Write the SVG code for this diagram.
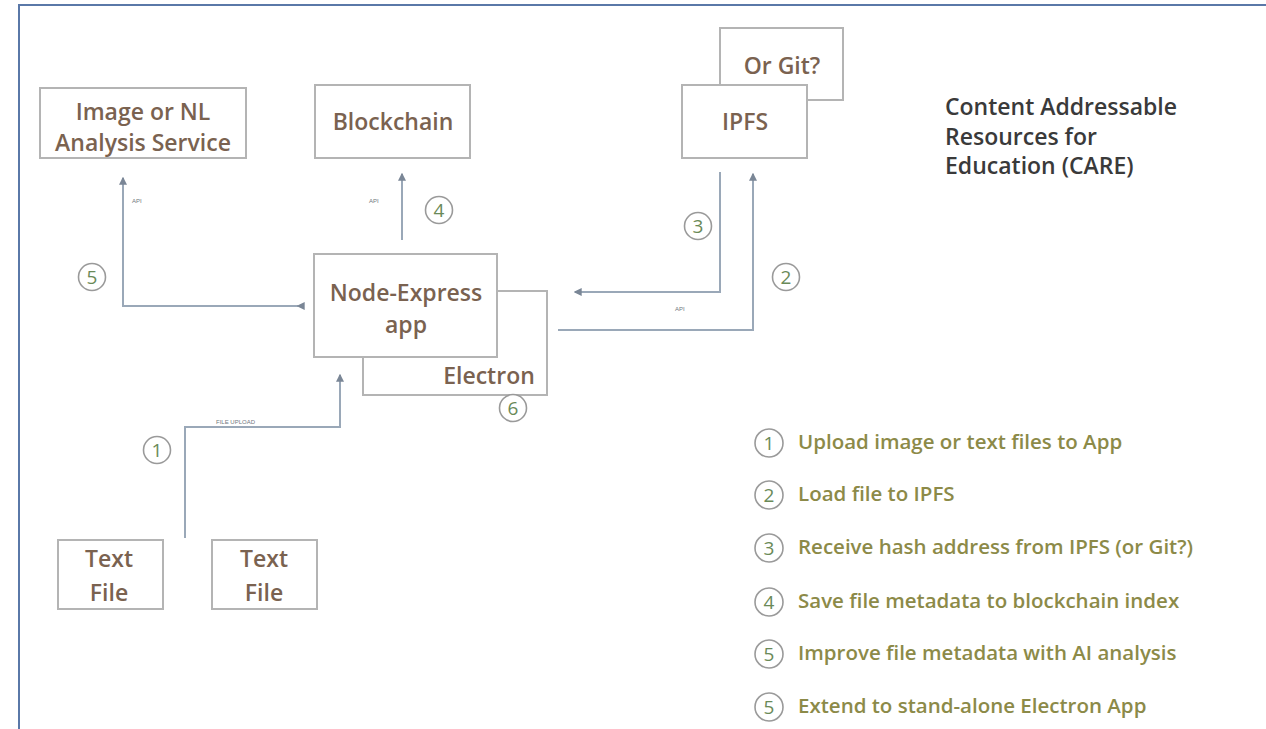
<svg xmlns="http://www.w3.org/2000/svg" width="1266" height="729" viewBox="0 0 1266 729">
<defs>
<style>
.box{fill:#ffffff;stroke:#b4b4b4;stroke-width:2}
.nt{font-family:"Open Sans",sans-serif;font-weight:600;font-size:23px;fill:#7a6250;text-anchor:middle}
.ln{fill:none;stroke:#9aa8b8;stroke-width:2}
.lbl{font-family:"Liberation Sans",sans-serif;font-size:6px;fill:#707880}
.cc{fill:#ffffff;stroke:#9a9a9a;stroke-width:1.6}
.cn{font-family:"Open Sans",sans-serif;font-size:19px;fill:#6a8a58;text-anchor:middle}
.lg{font-family:"Open Sans",sans-serif;font-weight:600;font-size:20.5px;fill:#8c8a48}
.tt{font-family:"Open Sans",sans-serif;font-weight:600;font-size:23px;fill:#3a3a3a}
</style>
<marker id="ah" viewBox="0 0 6 6" refX="5" refY="3" markerWidth="4" markerHeight="4" orient="auto">
<path d="M0,0 L6,3 L0,6 z" fill="#7a8696"/>
</marker>
</defs>
<rect width="1266" height="729" fill="#ffffff"/>
<path d="M19,729 V5 H1266" fill="none" stroke="#5a78a8" stroke-width="2"/>

<g id="connectors">
<path class="ln" d="M185,538 V427 H340 V375" marker-end="url(#ah)"/>
<text class="lbl" x="216" y="424">FILE UPLOAD</text>
<path class="ln" d="M298,306 H123 V178" marker-end="url(#ah)" marker-start="url(#ah)"/>
<text class="lbl" x="132" y="203">API</text>
<path class="ln" d="M402,240 V174" marker-end="url(#ah)"/>
<text class="lbl" x="369" y="203">API</text>
<path class="ln" d="M720,172 V292 H575" marker-end="url(#ah)"/>
<path class="ln" d="M558,330 H753 V174" marker-end="url(#ah)"/>
<text class="lbl" x="675" y="311">API</text>
</g>

<g id="node-analysis">
<rect class="box" x="40" y="88" width="206" height="70"/>
<text class="nt" x="143" y="120">Image or NL</text>
<text class="nt" x="143" y="151">Analysis Service</text>
</g>
<g id="node-blockchain">
<rect class="box" x="315" y="85" width="155" height="73"/>
<text class="nt" x="393" y="130">Blockchain</text>
</g>
<g id="node-git">
<rect class="box" x="720" y="28" width="123" height="72"/>
<text class="nt" x="782" y="74">Or Git?</text>
</g>
<g id="node-ipfs">
<rect class="box" x="682" y="85" width="125" height="73"/>
<text class="nt" x="745" y="130">IPFS</text>
</g>
<g id="node-electron">
<rect class="box" x="363" y="291" width="184" height="104"/>
<text class="nt" x="489" y="384">Electron</text>
</g>
<g id="node-app">
<rect class="box" x="314" y="254" width="183" height="103"/>
<text class="nt" x="406" y="301">Node-Express</text>
<text class="nt" x="406" y="333">app</text>
</g>
<g id="node-textfile1">
<rect class="box" x="58" y="540" width="105" height="69"/>
<text class="nt" x="109" y="567">Text</text>
<text class="nt" x="109" y="601">File</text>
</g>
<g id="node-textfile2">
<rect class="box" x="212" y="540" width="105" height="69"/>
<text class="nt" x="264" y="567">Text</text>
<text class="nt" x="264" y="601">File</text>
</g>

<g id="step-markers">
<circle class="cc" cx="157" cy="450" r="13.5"/><text class="cn" x="157" y="457">1</text>
<circle class="cc" cx="786" cy="277" r="13.5"/><text class="cn" x="786" y="284">2</text>
<circle class="cc" cx="698" cy="226" r="13.5"/><text class="cn" x="698" y="233">3</text>
<circle class="cc" cx="439" cy="210" r="13.5"/><text class="cn" x="439" y="217">4</text>
<circle class="cc" cx="92" cy="277" r="13.5"/><text class="cn" x="92" y="284">5</text>
<circle class="cc" cx="513" cy="408" r="13.5"/><text class="cn" x="513" y="415">6</text>
</g>

<g id="title">
<text class="tt" x="945" y="115">Content Addressable</text>
<text class="tt" x="945" y="145">Resources for</text>
<text class="tt" x="945" y="174">Education (CARE)</text>
</g>

<g id="legend">
<circle class="cc" cx="769" cy="443" r="14"/><text class="cn" x="769" y="450">1</text>
<text class="lg" x="798" y="449">Upload image or text files to App</text>
<circle class="cc" cx="769" cy="495" r="14"/><text class="cn" x="769" y="502">2</text>
<text class="lg" x="798" y="501">Load file to IPFS</text>
<circle class="cc" cx="769" cy="548" r="14"/><text class="cn" x="769" y="555">3</text>
<text class="lg" x="798" y="554">Receive hash address from IPFS (or Git?)</text>
<circle class="cc" cx="769" cy="602" r="14"/><text class="cn" x="769" y="609">4</text>
<text class="lg" x="798" y="608">Save file metadata to blockchain index</text>
<circle class="cc" cx="769" cy="654" r="14"/><text class="cn" x="769" y="661">5</text>
<text class="lg" x="798" y="660">Improve file metadata with AI analysis</text>
<circle class="cc" cx="769" cy="707" r="14"/><text class="cn" x="769" y="714">5</text>
<text class="lg" x="798" y="713">Extend to stand-alone Electron App</text>
</g>
</svg>
